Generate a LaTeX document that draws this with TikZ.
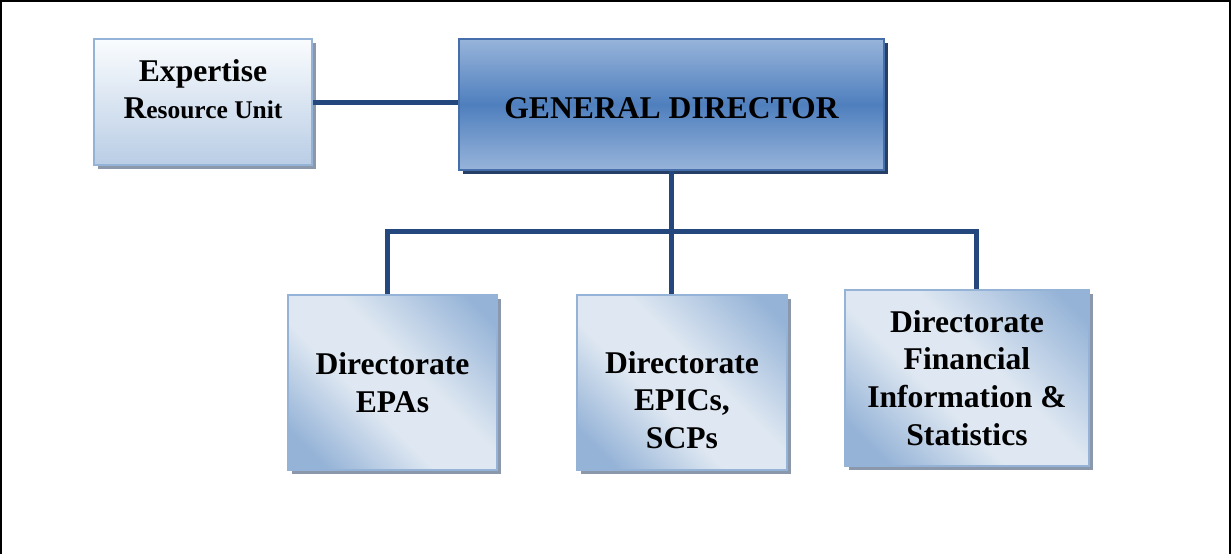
\documentclass[tikz,border=0pt]{standalone}
\usepackage{fontspec}
\setmainfont{Liberation Serif}
\usetikzlibrary{shadows}

\definecolor{linkblue}{RGB}{36,72,126}
\definecolor{gdborder}{RGB}{70,110,170}
\definecolor{gdshadow}{RGB}{37,63,102}
\definecolor{gdlight}{RGB}{151,180,218}
\definecolor{gddark}{RGB}{79,127,190}
\definecolor{litborder}{RGB}{149,179,215}
\definecolor{greyshadow}{RGB}{139,152,171}
\definecolor{dirlight}{RGB}{223,232,242}
\definecolor{dirdark}{RGB}{149,179,215}
\definecolor{explight}{RGB}{250,252,254}
\definecolor{expdark}{RGB}{185,205,229}

% soft diagonal band for the directorates
\pgfdeclareverticalshading{dirshade}{100bp}{color(0bp)=(dirdark); color(22bp)=(dirdark);
	color(42bp)=(dirlight); color(56bp)=(dirlight); color(80bp)=(dirdark); color(100bp)=(dirdark)}

\tikzset{
	unit/.style={line width=0.04cm, align=center, inner sep=2pt,
		font=\fontsize{18}{21.5}\selectfont\bfseries},
	topbox/.style={unit, draw=gdborder, top color=gdlight, bottom color=gdlight, middle color=gddark,
		drop shadow={shadow xshift=0.08cm, shadow yshift=-0.08cm, fill=gdshadow, opacity=1}},
	expbox/.style={unit, draw=litborder, top color=explight, bottom color=expdark,
		drop shadow={shadow xshift=0.08cm, shadow yshift=-0.08cm, fill=greyshadow, opacity=1}},
	dirbox/.style={unit, draw=litborder, minimum height=3.5cm,
		shade, shading=dirshade, shading angle=-45,
		drop shadow={shadow xshift=0.08cm, shadow yshift=-0.08cm, fill=greyshadow, opacity=1}},
	link/.style={draw=linkblue, line width=0.1cm}
}

\begin{document}
\begin{tikzpicture}
	\useasboundingbox (0,0) rectangle (24.64,-11.08);
	% page frame, open at the bottom
	\draw[line width=0.045cm] (0.02,-11.08) -- (0.02,-0.02) -- (24.6,-0.02) -- (24.6,-11.08);

	\node[topbox, minimum width=8.5cm, minimum height=2.62cm, text height=0.56cm] (gd) at (13.43,-2.09) {GENERAL DIRECTOR};
	\node[expbox, minimum width=4.36cm, minimum height=2.52cm, text depth=0.52cm] (exp) at (4.06,-2.04)
		{Expertise\\R{\fontsize{14.5}{21.5}\selectfont esource Unit}};

	\node[dirbox, minimum width=4.18cm] (epa) at (7.85,-7.65) {Directorate\\EPAs};
	\node[dirbox, minimum width=4.2cm, text height=2.65cm] (epic) at (13.64,-7.65) {Directorate\\EPICs,\\SCPs};
	\node[dirbox, minimum width=4.88cm, minimum height=3.52cm] (fin) at (19.34,-7.56)
		{Directorate\\Financial\\Information \&\\Statistics};

	\coordinate (bus) at (13.43,-4.62);

	\draw[link] (exp.east) -- (exp.east -| gd.west);
	\draw[link] (gd.south) -- (gd.south |- epic.north);
	\draw[link] ([xshift=-0.11cm]epa.north) |- (bus) -| ([xshift=0.18cm]fin.north);
\end{tikzpicture}
\end{document}
